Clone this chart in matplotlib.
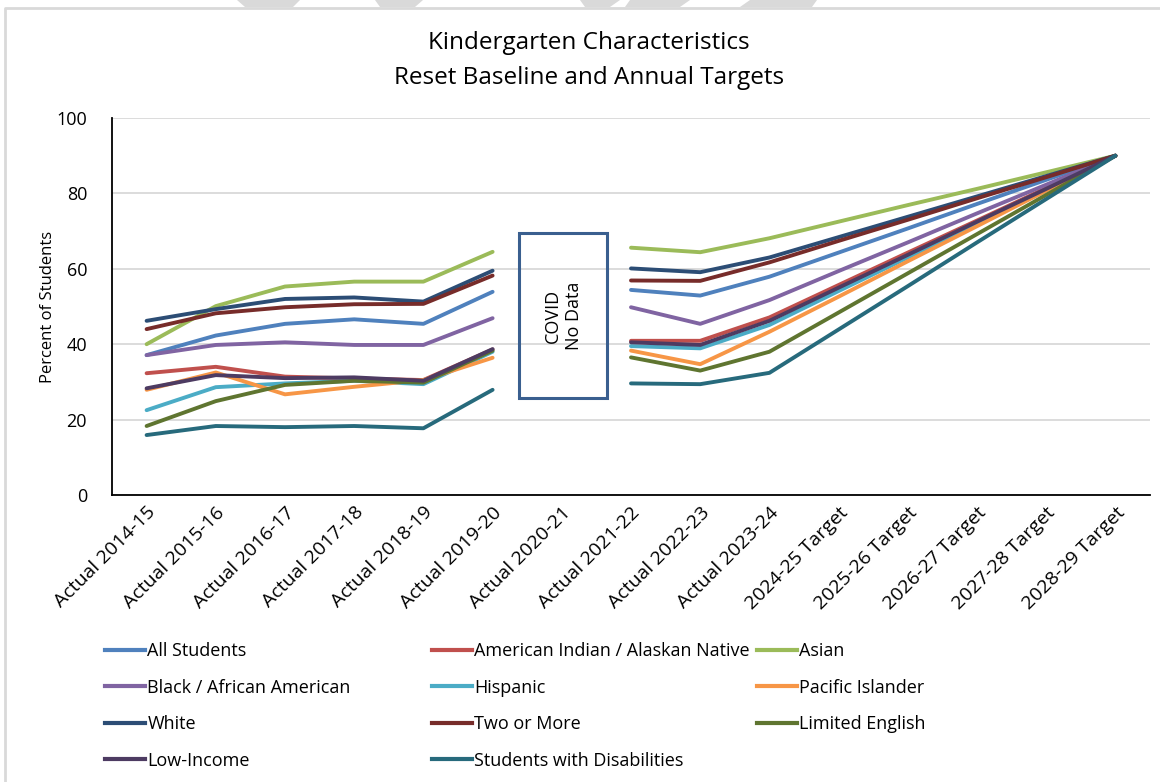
import matplotlib

matplotlib.use("Agg")
import matplotlib.pyplot as plt
import numpy as np
from matplotlib.lines import Line2D
from matplotlib.patches import Polygon, Rectangle

plt.rcParams["font.family"] = ["Open Sans", "DejaVu Sans"]

nan = np.nan

categories = [
    "Actual 2014-15", "Actual 2015-16", "Actual 2016-17", "Actual 2017-18",
    "Actual 2018-19", "Actual 2019-20", "Actual 2020-21", "Actual 2021-22",
    "Actual 2022-23", "Actual 2023-24", "2024-25 Target", "2025-26 Target",
    "2026-27 Target", "2027-28 Target", "2028-29 Target",
]

# values (2020-21 has no data)
all_students = [37.1, 42.3, 45.4, 46.6, 45.4, 53.9, nan, 54.4, 52.9, 57.9, 64.3, 70.7, 77.2, 83.6, 90]
am_indian = [32.3, 34.0, 31.4, 30.9, 30.5, 38.6, nan, 40.9, 40.9, 47.1, 55.7, 64.3, 72.8, 81.4, 90]
asian = [40.0, 50.1, 55.3, 56.6, 56.6, 64.5, nan, 65.6, 64.4, 68.1, 72.5, 76.9, 81.2, 85.6, 90]
black = [37.1, 39.8, 40.5, 39.8, 39.8, 46.9, nan, 49.8, 45.4, 51.7, 59.4, 67.0, 74.7, 82.3, 90]
hispanic = [22.5, 28.6, 29.6, 30.3, 29.4, 38.0, nan, 39.5, 38.9, 45.1, 54.1, 63.0, 72.0, 81.0, 90]
pacific = [27.9, 32.5, 26.7, 28.7, 30.5, 36.4, nan, 38.3, 34.7, 43.3, 52.6, 62.0, 71.3, 80.7, 90]
white = [46.2, 49.3, 52.0, 52.4, 51.3, 59.5, nan, 60.1, 59.1, 63.0, 68.4, 73.8, 79.2, 84.6, 90]
two_more = [44.0, 48.2, 49.8, 50.6, 50.7, 58.2, nan, 56.9, 56.8, 61.7, 67.4, 73.0, 78.7, 84.3, 90]
limited_eng = [18.3, 24.9, 29.2, 30.3, 29.8, 38.3, nan, 36.5, 33.0, 38.0, 48.4, 58.8, 69.2, 79.6, 90]
low_income = [28.3, 31.8, 31.0, 31.2, 30.3, 38.7, nan, 40.5, 39.8, 46.2, 55.0, 63.7, 72.5, 81.2, 90]
swd = [15.9, 18.3, 18.0, 18.3, 17.7, 27.9, nan, 29.6, 29.4, 32.4, 43.9, 55.4, 67.0, 78.5, 90]

series = [
    ("All Students", all_students, "#4F81BD"),
    ("American Indian / Alaskan Native", am_indian, "#C0504D"),
    ("Asian", asian, "#9BBB59"),
    ("Black / African American", black, "#8064A2"),
    ("Hispanic", hispanic, "#4BACC6"),
    ("Pacific Islander", pacific, "#F79646"),
    ("White", white, "#2C4D75"),
    ("Two or More", two_more, "#772C2A"),
    ("Limited English", limited_eng, "#5F7530"),
    ("Low-Income", low_income, "#4D3B62"),
    ("Students with Disabilities", swd, "#276A7C"),
]

fig = plt.figure(figsize=(11.6, 7.82), dpi=100)
ax = fig.add_axes([112 / 1160, 287 / 782, 1038 / 1160, 377 / 782])

x = np.arange(len(categories))
for name, vals, color in series:
    ax.plot(x, vals, color=color, lw=2.8, label=name,
            solid_joinstyle="round", solid_capstyle="round")

ax.set_xlim(-0.5, len(categories) - 0.5)
ax.set_ylim(0, 100)
ax.set_yticks([0, 20, 40, 60, 80, 100])
ax.set_xticks(x)
ax.set_xticklabels(categories, rotation=45, ha="right", rotation_mode="anchor",
                   fontsize=14)
ax.tick_params(axis="y", labelsize=13, length=0, pad=18)
ax.tick_params(axis="x", length=0, pad=6)
ax.grid(axis="y", color="#D9D9D9", lw=1.3)
ax.set_axisbelow(True)
for side in ["top", "right"]:
    ax.spines[side].set_visible(False)
for side in ["left", "bottom"]:
    ax.spines[side].set_color("black")
    ax.spines[side].set_linewidth(1.3)
ax.set_ylabel("Percent of Students", fontsize=12, labelpad=0)

# COVID gap box
ax.add_patch(Rectangle((5.38, 25.7), 1.28, 43.8, fill=False,
                       edgecolor="#3A5F8F", lw=2.2, zorder=5))
ax.text(6.02, 47.6, "COVID\nNo Data", rotation=90, ha="center", va="center",
        fontsize=13, zorder=6)

fig.text(0.508, 1 - 43 / 782, "Kindergarten Characteristics", ha="center",
         va="center", fontsize=17.5)
fig.text(0.508, 1 - 78 / 782, "Reset Baseline and Annual Targets", ha="center",
         va="center", fontsize=17.5)

# legend laid out in three fixed columns, row-major like the original
handles = {name: Line2D([], [], color=c, lw=3) for name, _, c in series}
names = [s[0] for s in series]
cols = [names[0::3], names[1::3], names[2::3]]
for xpos, col in zip([105, 432, 757], cols):
    fig.legend([handles[n] for n in col], col, loc="upper left",
               bbox_to_anchor=(xpos / 1160, 1 - 642 / 782), frameon=False,
               fontsize=13, handlelength=2.2, handletextpad=0.15,
               labelspacing=1.03, borderpad=0, borderaxespad=0)

# chart frame and watermark bits at the top edge
fig.add_artist(Line2D([5 / 1160, 5 / 1160, 1], [0, 1 - 8 / 782, 1 - 8 / 782],
                      transform=fig.transFigure, color="#D9D9D9", lw=2))
for x0, x1, x2, x3 in [(237, 300, 293, 245), (375, 423, 415, 380),
                       (580, 620, 610, 585), (630, 690, 680, 625),
                       (750, 817, 812, 740)]:
    fig.add_artist(Polygon([(x0 / 1160, 1), (x1 / 1160, 1),
                            (x2 / 1160, 1 - 7 / 782), (x3 / 1160, 1 - 7 / 782)],
                           transform=fig.transFigure, color="#D9D9D9", lw=0))

fig.savefig("out.png", dpi=100)
